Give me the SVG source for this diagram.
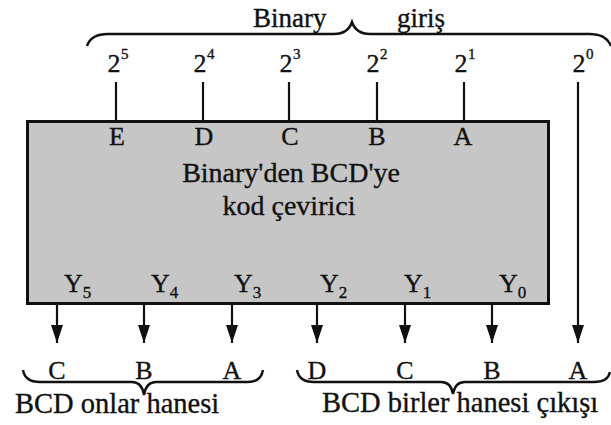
<svg xmlns="http://www.w3.org/2000/svg" width="611" height="425" viewBox="0 0 611 425">
<style>
text{font-family:"Liberation Serif","Times New Roman",serif;fill:#111;stroke:#111;stroke-width:0.35;}
.t{font-size:27px;}
.big{font-size:28px;}
.pw{font-size:26px;}
.sup{font-size:15px;}
.lt{font-size:26px;}
.sub{font-size:17px;}
.line{stroke:#111;stroke-width:2.2;fill:none;}
.brace{stroke:#111;stroke-width:2.4;fill:none;}
</style>
<defs>
<marker id="ah" markerWidth="18" markerHeight="12" refX="18" refY="6" orient="auto" markerUnits="userSpaceOnUse" viewBox="0 0 18 12">
<path d="M0,0 L18,6 L0,12 Z" fill="#111"/>
</marker>
</defs>
<rect width="611" height="425" fill="#fff"/>

<g id="input-brace">
<path class="brace" d="M87,46 Q91,34 108,34 L334,34 Q348,34 352,22 Q356,34 370,34 L590,34 Q606,34 611,46"/>
<text class="t" x="253" y="27">Binary</text>
<text class="t" x="397" y="27">giriş</text>
</g>

<g id="inputs">
<text class="pw" x="114" y="72" text-anchor="middle">2</text><text class="sup" x="121" y="59">5</text>
<text class="pw" x="200" y="72" text-anchor="middle">2</text><text class="sup" x="207" y="59">4</text>
<text class="pw" x="286" y="72" text-anchor="middle">2</text><text class="sup" x="293" y="59">3</text>
<text class="pw" x="373" y="72" text-anchor="middle">2</text><text class="sup" x="380" y="59">2</text>
<text class="pw" x="461" y="72" text-anchor="middle">2</text><text class="sup" x="468" y="59">1</text>
<text class="pw" x="579" y="72" text-anchor="middle">2</text><text class="sup" x="586" y="59">0</text>
</g>

<g id="converter">
<rect x="27.5" y="121.5" width="521" height="182" fill="#c6c6c6" stroke="#111" stroke-width="3"/>
<text class="lt" x="117" y="145" text-anchor="middle">E</text>
<text class="lt" x="204" y="145" text-anchor="middle">D</text>
<text class="lt" x="290" y="145" text-anchor="middle">C</text>
<text class="lt" x="377" y="145" text-anchor="middle">B</text>
<text class="lt" x="463" y="145" text-anchor="middle">A</text>
<text class="big" x="291" y="182" text-anchor="middle">Binary'den BCD'ye</text>
<text class="big" x="289" y="215" text-anchor="middle">kod çevirici</text>
<text class="lt" x="64" y="292">Y<tspan class="sub" dy="6">5</tspan></text>
<text class="lt" x="151" y="292">Y<tspan class="sub" dy="6">4</tspan></text>
<text class="lt" x="234" y="292">Y<tspan class="sub" dy="6">3</tspan></text>
<text class="lt" x="320" y="292">Y<tspan class="sub" dy="6">2</tspan></text>
<text class="lt" x="404" y="292">Y<tspan class="sub" dy="6">1</tspan></text>
<text class="lt" x="499" y="292">Y<tspan class="sub" dy="6">0</tspan></text>
</g>

<g id="connectors">
<line class="line" x1="116" y1="82" x2="116" y2="121"/>
<line class="line" x1="203" y1="82" x2="203" y2="121"/>
<line class="line" x1="289" y1="82" x2="289" y2="121"/>
<line class="line" x1="377" y1="82" x2="377" y2="121"/>
<line class="line" x1="464" y1="82" x2="464" y2="121"/>
<line class="line" x1="578" y1="82" x2="578" y2="343" marker-end="url(#ah)"/>
<line class="line" x1="57" y1="305" x2="57" y2="343" marker-end="url(#ah)"/>
<line class="line" x1="144" y1="305" x2="144" y2="343" marker-end="url(#ah)"/>
<line class="line" x1="232" y1="305" x2="232" y2="343" marker-end="url(#ah)"/>
<line class="line" x1="317" y1="305" x2="317" y2="343" marker-end="url(#ah)"/>
<line class="line" x1="405" y1="305" x2="405" y2="343" marker-end="url(#ah)"/>
<line class="line" x1="492" y1="305" x2="492" y2="343" marker-end="url(#ah)"/>
</g>

<g id="tens-output">
<text class="lt" x="57" y="379" text-anchor="middle">C</text>
<text class="lt" x="144" y="379" text-anchor="middle">B</text>
<text class="lt" x="232" y="379" text-anchor="middle">A</text>
<path class="brace" d="M23,370 Q25,382 40,382 L132,382 Q142,382 144,395 Q146,382 156,382 L248,382 Q261,382 263,370"/>
<text class="big" x="15" y="413" style="font-size:28.5px">BCD onlar hanesi</text>
</g>

<g id="units-output">
<text class="lt" x="317" y="379" text-anchor="middle">D</text>
<text class="lt" x="405" y="379" text-anchor="middle">C</text>
<text class="lt" x="492" y="379" text-anchor="middle">B</text>
<text class="lt" x="578" y="379" text-anchor="middle">A</text>
<path class="brace" d="M297,370 Q299,382 314,382 L441,382 Q451,382 453,394 Q455,382 465,382 L594,382 Q608,382 610,372"/>
<text class="big" x="322" y="412" style="font-size:28.5px">BCD birler hanesi çıkışı</text>
</g>
</svg>
